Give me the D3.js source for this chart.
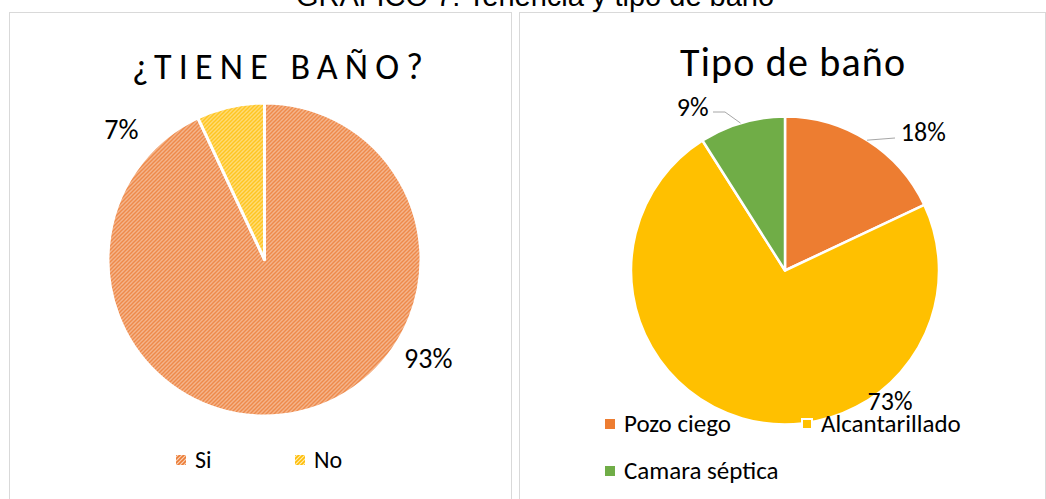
<!DOCTYPE html>
<html>
<head>
<meta charset="utf-8">
<script src="https://cdn.jsdelivr.net/npm/d3@7"></script>
<style>
	html, body { margin: 0; padding: 0; background: #fff; }
	svg { display: block; }
	text { font-family: Carlito, Calibri, Lato, sans-serif; fill: #000; }
</style>
</head>
<body>
<script>
// data
const tieneLabels = ["Si", "No"];
const tieneValues = [93, 7];
const tipoLabels = ["Pozo ciego", "Alcantarillado", "Camara séptica"];
const tipoValues = [18, 73, 9];

const W = 1046, H = 499;

const svg = d3.select("body").append("svg")
	.attr("width", W)
	.attr("height", H);

const defs = svg.append("defs");

// Excel style "upward diagonal" hatch
function hatch(id, bg, fg) {
	const p = defs.append("pattern")
		.attr("id", id)
		.attr("patternUnits", "userSpaceOnUse")
		.attr("width", 4)
		.attr("height", 4);
	p.append("rect").attr("width", 4).attr("height", 4).attr("fill", bg);
	p.append("path")
		.attr("d", "M-1,1 L1,-1 M0,4 L4,0 M3,5 L5,3")
		.attr("stroke", fg)
		.attr("stroke-width", 1.6);
}
hatch("hatch-si", "#f9d3ba", "#ec7c35");
hatch("hatch-no", "#ffecb0", "#ffbd05");

const tieneFill = ["url(#hatch-si)", "url(#hatch-no)"];
const tipoColors = ["#ed7d31", "#ffc000", "#70ad47"];

// panel frames
svg.append("g")
	.selectAll("rect")
	.data([[9, 511], [519, 1045]])
	.join("rect")
	.attr("x", d => d[0] + 0.5)
	.attr("y", 12.5)
	.attr("width", d => d[1] - d[0])
	.attr("height", H)
	.attr("fill", "none")
	.attr("stroke", "#d9d9d9");

// document caption, cut off at the top
svg.append("text")
	.attr("x", 535)
	.attr("y", 6)
	.attr("text-anchor", "middle")
	.style("font-family", "'Liberation Sans', Arial, sans-serif")
	.style("font-size", "29px")
	.text("GRÁFICO 7: Tenencia y tipo de baño");

const pie = d3.pie().sort(null).value(d => d);
const rad = Math.PI / 180;
const polar = (cx, cy, deg, r) => [cx + r * Math.sin(deg * rad), cy - r * Math.cos(deg * rad)];

// ---------- left chart ----------
{
	const cx = 264.5, cy = 259.5, r = 156.5;
	const g = svg.append("g");

	g.append("text")
		.attr("x", 132)
		.attr("y", 79)
		.attr("textLength", 291)
		.attr("lengthAdjust", "spacing")
		.style("font-size", "36px")
		.text("¿TIENE BAÑO?");

	const arc = d3.arc().innerRadius(0).outerRadius(r);
	g.append("g")
		.attr("transform", `translate(${cx},${cy})`)
		.selectAll("path")
		.data(pie(tieneValues))
		.join("path")
		.attr("d", arc)
		.attr("fill", (d, i) => tieneFill[i])
		.attr("stroke", "#fff")
		.attr("stroke-width", 3)
		.attr("stroke-linejoin", "round");

	// label spots: [angle, radius]
	const spots = [[121, 191], [312.5, 194]];
	g.selectAll("text.lbl")
		.data(tieneValues)
		.join("text")
		.attr("class", "lbl")
		.attr("x", (d, i) => polar(cx, cy, spots[i][0], spots[i][1])[0])
		.attr("y", (d, i) => polar(cx, cy, spots[i][0], spots[i][1])[1])
		.attr("text-anchor", "middle")
		.attr("dy", "0.36em")
		.style("font-size", "28px")
		.text(d => d + "%");

	const lx = [176, 295];
	const leg = g.selectAll("g.leg")
		.data(tieneLabels)
		.join("g")
		.attr("class", "leg")
		.attr("transform", (d, i) => `translate(${lx[i]},455)`);
	leg.append("rect")
		.attr("width", 10).attr("height", 10)
		.attr("fill", (d, i) => tieneFill[i]);
	leg.append("text")
		.attr("x", 19).attr("y", 13)
		.style("font-size", "24px")
		.text(d => d);
}

// ---------- right chart ----------
{
	const cx = 785, cy = 270.5, r = 154;
	const g = svg.append("g");

	g.append("text")
		.attr("x", 680)
		.attr("y", 76)
		.attr("textLength", 225)
		.attr("lengthAdjust", "spacing")
		.style("font-size", "40px")
		.text("Tipo de baño");

	const arc = d3.arc().innerRadius(0).outerRadius(r);
	g.append("g")
		.attr("transform", `translate(${cx},${cy})`)
		.selectAll("path")
		.data(pie(tipoValues))
		.join("path")
		.attr("d", arc)
		.attr("fill", (d, i) => tipoColors[i])
		.attr("stroke", "#fff")
		.attr("stroke-width", 2.5)
		.attr("stroke-linejoin", "round");

	// leader lines for the outside labels
	const leaders = [
		[polar(cx, cy, 32.2, r), [895, 138]],
		null,
		[polar(cx, cy, -16.8, r), [725, 112], [713, 112]]
	];
	g.selectAll("path.leader")
		.data(leaders.filter(d => d))
		.join("path")
		.attr("class", "leader")
		.attr("d", d3.line())
		.attr("fill", "none")
		.attr("stroke", "#a6a6a6")
		.attr("stroke-width", 1);

	const lx = [605, 802, 605], ly = [419, 419, 466];
	const leg = g.selectAll("g.leg")
		.data(tipoLabels)
		.join("g")
		.attr("class", "leg")
		.attr("transform", (d, i) => `translate(${lx[i]},${ly[i]})`);
	leg.append("rect")
		.attr("width", 10).attr("height", 10)
		.attr("fill", (d, i) => tipoColors[i])
		.attr("stroke", (d, i) => i === 1 ? "#fff" : "none")
		.attr("stroke-width", 2);
	leg.append("text")
		.attr("x", 19).attr("y", 13)
		.style("font-size", "25px")
		.text(d => d);

	const spots = [[44.9, 196], [141, 167], [-29.4, 188]];
	g.selectAll("text.lbl")
		.data(tipoValues)
		.join("text")
		.attr("class", "lbl")
		.attr("x", (d, i) => polar(cx, cy, spots[i][0], spots[i][1])[0])
		.attr("y", (d, i) => polar(cx, cy, spots[i][0], spots[i][1])[1])
		.attr("text-anchor", "middle")
		.attr("dy", "0.36em")
		.style("font-size", "26px")
		.text(d => d + "%");
}
</script>
</body>
</html>
